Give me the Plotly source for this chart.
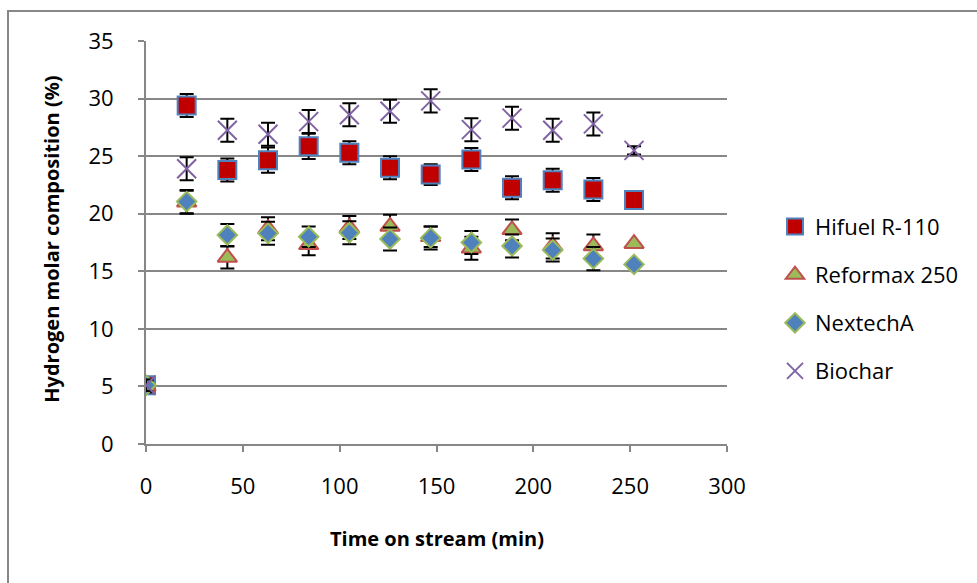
import plotly.graph_objects as go

time_min = [0, 21, 42, 63, 84, 105, 126, 147, 168, 189, 210, 231, 252]

hifuel = [5.1, 29.4, 23.8, 24.65, 25.85, 25.3, 24.0, 23.4, 24.7, 22.25, 22.9, 22.1, 21.2]
hifuel_err = [0.5, 1.0, 1.0, 1.1, 1.1, 1.0, 1.0, 0.9, 1.0, 1.0, 1.0, 1.0, 0.0]

reformax = [5.0, 21.0, 16.2, 18.7, 17.3, 18.8, 18.9, 18.0, 17.0, 18.6, 17.2, 17.2, 17.4]
reformax_err = [0.5, 1.0, 0.95, 1.0, 0.9, 1.0, 1.0, 0.9, 1.0, 0.9, 1.1, 1.0, 0.0]

nextech = [5.1, 21.05, 18.15, 18.3, 18.0, 18.35, 17.8, 17.9, 17.5, 17.2, 16.85, 16.1, 15.6]
nextech_err = [0.5, 1.0, 0.95, 1.0, 0.9, 1.0, 1.0, 1.0, 1.0, 1.0, 1.0, 1.0, 0.0]

biochar = [5.1, 23.9, 27.25, 26.9, 28.0, 28.6, 28.9, 29.8, 27.3, 28.3, 27.25, 27.8, 25.5]
biochar_err = [0.5, 1.0, 1.0, 1.0, 1.0, 1.0, 1.0, 1.0, 1.0, 1.0, 1.0, 1.0, 0.35]

series_names = ["Hifuel R-110", "Reformax 250", "NextechA", "Biochar"]

FONT = "Open Sans"
GRID = "#878787"

W, H = 977, 583
L, R, T, B = 146, 727, 41, 444.5


def px_x(p):
    return (p - L) / (R - L)


def px_y(p):
    return (B - p) / (B - T)


fig = go.Figure()

styles = [
    dict(symbol="square", size=18, color="#C00000", line=dict(color="#4F81BD", width=2)),
    dict(symbol="triangle-up", size=17, color="#9BBB59", line=dict(color="#C0504D", width=2)),
    dict(symbol="diamond", size=15, color="#4F81BD", line=dict(color="#9BBB59", width=2)),
    dict(symbol="x-thin", size=19, color="#8064A2", line=dict(color="#8064A2", width=2)),
]
values = [hifuel, reformax, nextech, biochar]
errs = [hifuel_err, reformax_err, nextech_err, biochar_err]

for i, (name, ys, es, st) in enumerate(zip(series_names, values, errs, styles)):
    fig.add_trace(go.Scatter(
        x=time_min, y=ys, name=name, mode="markers",
        marker=st,
        error_y=dict(type="data", array=es, visible=True, color="black",
                     thickness=2, width=7),
        legendgroup=f"g{i}",
    ))

fig.update_layout(
    width=W, height=H,
    margin=dict(l=L, r=W - R, t=T, b=H - B, pad=0),
    paper_bgcolor="white", plot_bgcolor="white",
    font=dict(family=FONT, size=22, color="black"),
    showlegend=True,
    legend=dict(x=px_x(775), xanchor="left", y=px_y(206), yanchor="top",
                font=dict(family=FONT, size=22, color="black"),
                tracegroupgap=16.5, itemwidth=30, bgcolor="rgba(0,0,0,0)"),
    xaxis=dict(range=[0, 300], tickvals=[0, 50, 100, 150, 200, 250, 300],
               showgrid=False, showline=True, linecolor=GRID, linewidth=2,
               ticks="outside", ticklen=6, tickcolor=GRID, tickwidth=2,
               tickfont=dict(family=FONT, size=22), ticklabelstandoff=16,
               zeroline=False),
    yaxis=dict(range=[0, 35], tickvals=[0, 5, 10, 15, 20, 25, 30, 35],
               showgrid=True, gridcolor=GRID, gridwidth=2,
               showline=True, linecolor=GRID, linewidth=2,
               ticks="outside", ticklen=6, tickcolor=GRID, tickwidth=2,
               tickfont=dict(family=FONT, size=22), ticklabelstandoff=20,
               zeroline=False),
    annotations=[
        dict(text="<b>Time on stream (min)</b>", xref="paper", yref="paper",
             x=px_x(436.5), y=px_y(539), showarrow=False,
             xanchor="center", yanchor="middle",
             font=dict(family=FONT, size=20, color="black")),
        dict(text="<b>Hydrogen molar composition (%)</b>", xref="paper", yref="paper",
             x=px_x(52), y=px_y(240), showarrow=False, textangle=-90,
             xanchor="center", yanchor="middle",
             font=dict(family=FONT, size=20, color="black")),
    ],
    shapes=[
        dict(type="rect", xref="paper", yref="paper",
             x0=px_x(8), x1=px_x(1200), y0=px_y(800), y1=px_y(11),
             line=dict(color=GRID, width=2), fillcolor="rgba(0,0,0,0)", layer="below"),
    ],
)

fig.write_html("out.html")
